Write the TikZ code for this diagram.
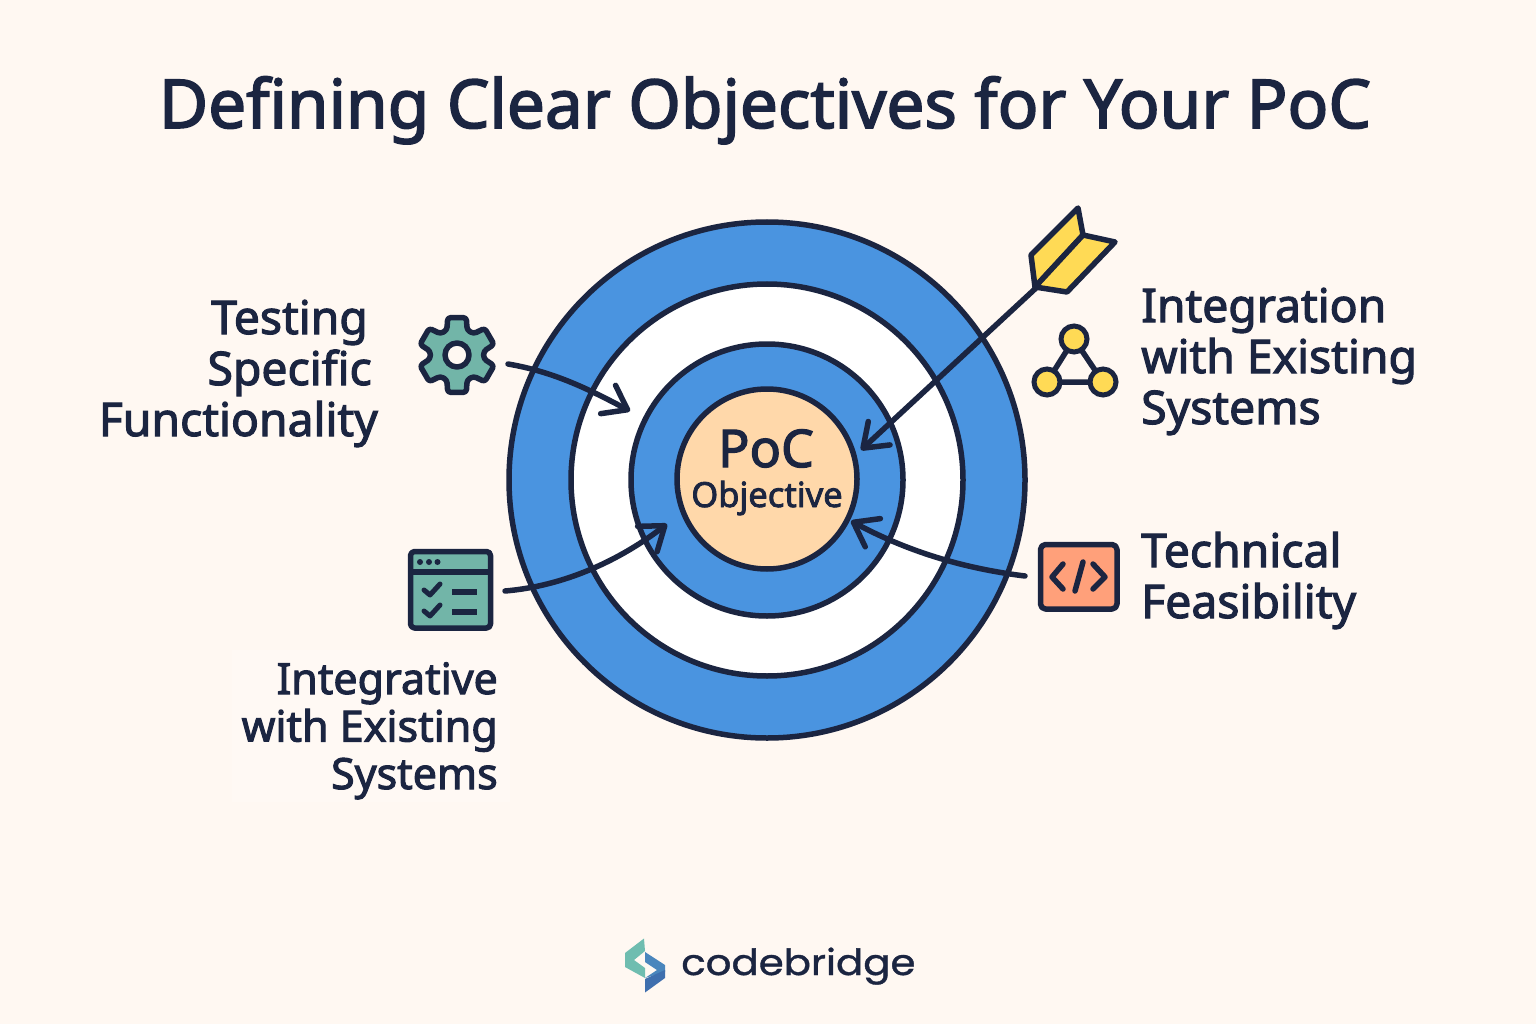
\documentclass[tikz,border=0pt]{standalone}
\usepackage{fontspec}
\setmainfont{Noto Sans}[FakeBold=2.4]
\newfontfamily\logofont{Poppins}[FakeBold=1.0]
\usetikzlibrary{arrows.meta}
\definecolor{bgc}{HTML}{FFF8F2}
\definecolor{navy}{HTML}{1B2541}
\definecolor{ringblue}{HTML}{4A94E0}
\definecolor{tealc}{HTML}{72B5A8}
\definecolor{peach}{HTML}{FFD8AA}
\definecolor{coral}{HTML}{FFA07A}
\definecolor{yellowc}{HTML}{FFDA55}
\definecolor{logoteal}{HTML}{6FBDB0}
\definecolor{logoblue}{HTML}{4A86BD}
\definecolor{logoblued}{HTML}{3F6FAE}
\tikzset{
  ring/.style={circle,draw=navy,line width=5.5pt,inner sep=0pt},
  icon/.style={draw=navy,line width=5.5pt,line join=round,line cap=round},
  label/.style={text=navy,font=\fontsize{46.3}{51}\selectfont,inner sep=0pt},
  conn/.style={draw=navy,line width=5.5pt,line cap=round,-{Straight Barb[length=22pt,width=32pt,line width=5.5pt,round]}},
  tick/.style={icon,fill=none,line width=5pt}
}
\begin{document}
\begin{tikzpicture}[x=1pt,y=-1pt]
\useasboundingbox (0,0) rectangle (1536,1024);
\fill[bgc] (0,0) rectangle (1536,1024);
\fill[white,opacity=.2] (232,650) rectangle (510,802);

\node[text=navy,font=\fontsize{67.5}{70}\selectfont,inner sep=0pt,anchor=base] (title) at (765,128) {Defining Clear Objectives for Your PoC};

% target
\node[ring,fill=ringblue,minimum size=516pt] (r1) at (767,480) {};
\node[ring,fill=white,minimum size=392pt] (r2) at (767,480) {};
\node[ring,fill=ringblue,minimum size=272pt] (r3) at (767,480) {};
\node[ring,fill=peach,minimum size=180pt] (r4) at (767,479) {};
\node[text=navy,font=\fontsize{52}{52}\selectfont,inner sep=0pt,anchor=base] (poc) at (766,467) {PoC};
\node[text=navy,font=\fontsize{34.5}{34.5}\selectfont,inner sep=0pt,anchor=base] (obj) at (767,507) {Objective};

% anchors for connectors
\coordinate (gearout) at (508,364);
\coordinate (gearin) at (630,411);
\coordinate (listout) at (505,591);
\coordinate (listin) at (667,524);
\coordinate (codeout) at (1025,576);
\coordinate (codein) at (851,521);
\coordinate (dartout) at (1036,288);
\coordinate (dartin) at (861,450);

% connectors
\draw[conn] (gearout) .. controls (555,372) and (590,390) .. (gearin);
\draw[conn] (listout) .. controls (565,586) and (620,560) .. (listin);
\draw[conn] (codeout) .. controls (960,568) and (905,550) .. (codein);
\draw[conn] (dartout) -- (dartin);

% dart
\draw[icon,fill=yellowc] (1035,287) -- (1031,255) -- (1078,208) -- (1083,235) -- cycle;
\draw[icon,fill=yellowc] (1035,287) -- (1083,235) -- (1115,242) -- (1067,292) -- cycle;

% gear
\begin{scope}[shift={(457,355)}]
\draw[icon,fill=tealc,rounded corners=3pt]
  (8:27) -- (16:38.5) -- (44:38.5) -- (52:27) -- (68:27) -- (76:38.5) -- (104:38.5) -- (112:27)
  -- (128:27) -- (136:38.5) -- (164:38.5) -- (172:27) -- (188:27) -- (196:38.5) -- (224:38.5) -- (232:27)
  -- (248:27) -- (256:38.5) -- (284:38.5) -- (292:27) -- (308:27) -- (316:38.5) -- (344:38.5) -- (352:27) -- cycle;
\draw[icon,fill=bgc] (0,0) circle (12);
\end{scope}
\node[inner sep=0pt,minimum size=80pt] (gearicon) at (457,355) {};

% window list
\draw[icon,fill=tealc,rounded corners=4pt] (410.5,551.5) rectangle (490.5,628);
\draw[icon] (411,572) -- (490,572);
\fill[navy] (420,562) circle (3) (429,562) circle (3) (437.5,562) circle (3);
\draw[tick] (424,590) -- (430,595) -- (440,584);
\draw[tick] (424,611) -- (430,616) -- (440,605);
\draw[icon,line cap=butt] (452,592) -- (477,592);
\draw[icon,line cap=butt] (452,612) -- (477,612);
\node[inner sep=0pt,minimum width=80pt,minimum height=77pt] (listicon) at (450.5,590) {};

% network
\draw[icon] (1074,339) -- (1047,382) -- (1103,382) -- cycle;
\node[circle,draw=navy,fill=yellowc,line width=5pt,minimum size=26pt,inner sep=0pt] (n1) at (1074,339) {};
\node[circle,draw=navy,fill=yellowc,line width=5pt,minimum size=26pt,inner sep=0pt] (n2) at (1047,382) {};
\node[circle,draw=navy,fill=yellowc,line width=5pt,minimum size=26pt,inner sep=0pt] (n3) at (1103,382) {};

% code
\draw[icon,fill=coral,rounded corners=5pt] (1040.5,544.5) rectangle (1117,609);
\draw[icon] (1063,564) -- (1052,577) -- (1063,589);
\draw[icon] (1083,562) -- (1075,591);
\draw[icon] (1093,564) -- (1105,577) -- (1093,589);
\node[inner sep=0pt,minimum width=78pt,minimum height=66pt] (codeicon) at (1078.5,577) {};

% labels
\node[label,align=right,anchor=base east] (lab1) at (378,436) {Testing\kern10pt\\Specific\kern6pt\\Functionality};
\node[label,align=left,anchor=base west] (lab2) at (1141,424) {Integration\\with Existing\\Systems};
\node[label,align=left,anchor=base west] (lab3) at (1141,618) {Technical\\Feasibility};
\node[label,align=right,anchor=base east,font=\fontsize{43}{47.5}\selectfont] (lab4) at (498,789) {Integrative\\with Existing\\Systems};

% logo
\fill[logoteal] (625,953) -- (644,938.5) -- (645,951) -- (634,960) -- (645,968) -- (645,978) -- (625,967) -- cycle;
\fill[logoblue] (645,952) -- (665,965) -- (665,972) -- (645,978) -- (657,970) -- (645,962) -- cycle;
\fill[logoblued] (665,970) -- (665,978) -- (645,992.5) -- (645,979) -- cycle;
\node[text=navy,font=\fontsize{36}{36}\selectfont\logofont,inner sep=0pt,anchor=base west,xscale=1.12] (logo) at (681,975) {codebridge};
\end{tikzpicture}
\end{document}
